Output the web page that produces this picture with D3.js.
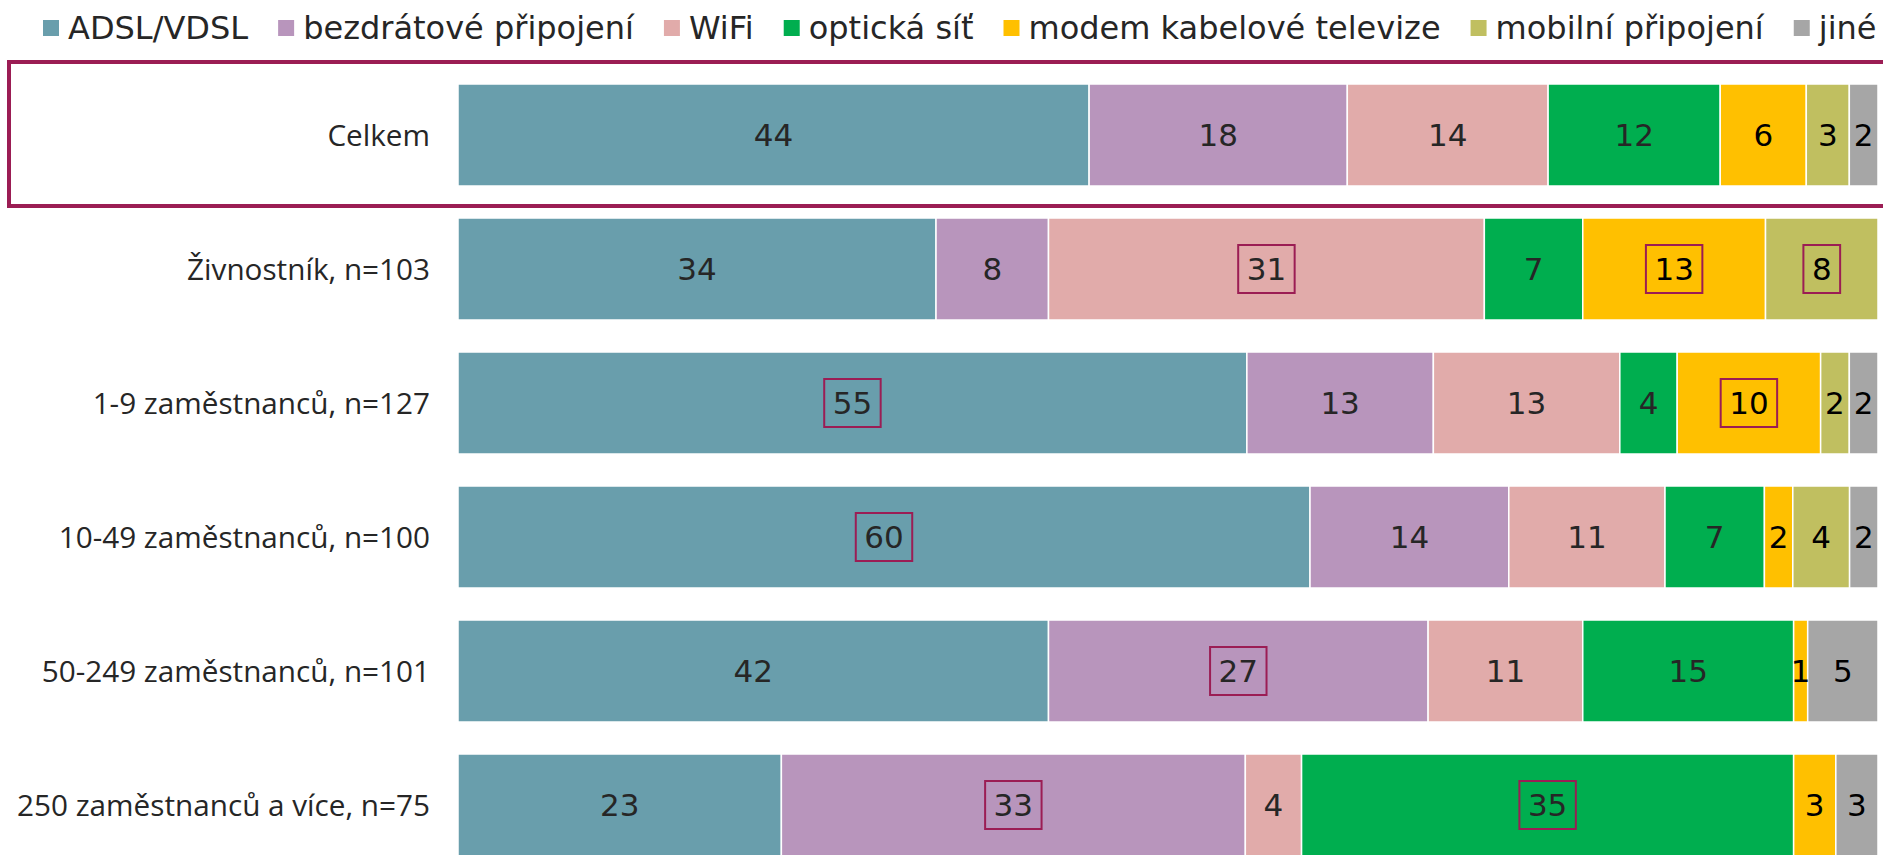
<!DOCTYPE html>
<html>
<head>
<meta charset="utf-8">
<script src="https://cdn.jsdelivr.net/npm/d3@7"></script>
<style>
  html, body { margin: 0; padding: 0; background: #fff; overflow: hidden; }
  svg { display: block; }
</style>
</head>
<body>
<svg id="chart" width="1883" height="855"></svg>
<script>
// ---- data ----
const categories = [
  "Celkem",
  "Živnostník, n=103",
  "1-9 zaměstnanců, n=127",
  "10-49 zaměstnanců, n=100",
  "50-249 zaměstnanců, n=101",
  "250 zaměstnanců a více, n=75"
];
const seriesNames = ["ADSL/VDSL", "bezdrátové připojení", "WiFi", "optická síť", "modem kabelové televize", "mobilní připojení", "jiné"];
const adsl     = [44, 34, 55, 60, 42, 23];
const bezdrat  = [18,  8, 13, 14, 27, 33];
const wifi     = [14, 31, 13, 11, 11,  4];
const opticka  = [12,  7,  4,  7, 15, 35];
const modem    = [ 6, 13, 10,  2,  1,  3];
const mobilni  = [ 3,  8,  2,  4,  0,  0];
const jine     = [ 2,  0,  2,  2,  5,  3];
const seriesValues = [adsl, bezdrat, wifi, opticka, modem, mobilni, jine];
// significance-boxed labels: [category index, series index]
const boxed = [[1,2],[1,4],[1,5],[2,0],[2,4],[3,0],[4,1],[5,1],[5,3]];
const colors = ["#699EAC", "#B895BC", "#E1ABAA", "#00AE4F", "#FFC000", "#C0BF60", "#A6A6A6"];
const textColors = ["#262626", "#262626", "#262626", "#262626", "#000000", "#000000", "#000000"];
const accent = "#9B1D54";

// ---- layout ----
const W = 1883, H = 855;
const plot = { left: 458, right: 1878, top: 84 };
const rowStep = 134, barH = 102;

const svg = d3.select("#chart");

const x = d3.scaleLinear().domain([0, 1]).range([plot.left, plot.right]);
const y = d3.scaleBand()
  .domain(categories)
  .range([plot.top, plot.top + rowStep * (categories.length - 1) + barH])
  .paddingInner((rowStep - barH) / rowStep)
  .paddingOuter(0);

// build normalized stack
const rows = categories.map((c, i) => {
  const obj = { cat: c };
  seriesNames.forEach((s, j) => obj[s] = seriesValues[j][i]);
  return obj;
});
const stack = d3.stack().keys(seriesNames).offset(d3.stackOffsetExpand);
const stacked = stack(rows);

// highlight frame around "Celkem"
svg.append("rect")
  .attr("x", 9).attr("y", 62)
  .attr("width", W + 20).attr("height", 144)
  .attr("fill", "none").attr("stroke", accent).attr("stroke-width", 4);

// bars
const layers = svg.append("g").selectAll("g")
  .data(stacked).join("g")
  .attr("fill", (d, j) => colors[j]);

layers.selectAll("rect")
  .data(d => d.map(v => ({ v, key: d.key })))
  .join("rect")
  .filter(d => d.v[1] - d.v[0] > 0)
  .attr("x", d => x(d.v[0]))
  .attr("y", d => y(d.v.data.cat))
  .attr("width", d => x(d.v[1]) - x(d.v[0]))
  .attr("height", y.bandwidth())
  .attr("stroke", "#fff").attr("stroke-width", 1.5);

// value labels
const labelG = svg.append("g")
  .style("font-family", "'DejaVu Sans', Verdana, sans-serif")
  .style("font-size", "31px");

stacked.forEach((layer, j) => {
  layer.forEach((v, i) => {
    const val = seriesValues[j][i];
    if (!val) return;
    const cx = (x(v[0]) + x(v[1])) / 2;
    const cy = y(categories[i]) + y.bandwidth() / 2;
    const t = labelG.append("text")
      .attr("x", cx).attr("y", cy)
      .attr("text-anchor", "middle")
      .attr("dy", "0.36em")
      .attr("fill", textColors[j])
      .text(val);
    if (boxed.some(b => b[0] === i && b[1] === j)) {
      const w = t.node().getComputedTextLength();
      labelG.append("rect")
        .attr("x", cx - w / 2 - 8.5).attr("y", cy - 24)
        .attr("width", w + 17).attr("height", 48)
        .attr("fill", "none").attr("stroke", accent).attr("stroke-width", 2);
    }
  });
});

// category labels
svg.append("g").selectAll("text")
  .data(categories).join("text")
  .attr("x", 430)
  .attr("y", d => y(d) + y.bandwidth() / 2)
  .attr("dy", "0.36em")
  .attr("text-anchor", "end")
  .style("font-family", "'Open Sans', 'Noto Sans', sans-serif")
  .style("font-size", "29.7px")
  .attr("fill", "#262626")
  .text(d => d);

// legend
const legend = svg.append("g")
  .style("font-family", "'DejaVu Sans', Verdana, sans-serif")
  .style("font-size", "32px");
let lx = 43;
seriesNames.forEach((s, j) => {
  legend.append("rect")
    .attr("x", lx).attr("y", 20).attr("width", 16).attr("height", 16)
    .attr("fill", colors[j]);
  const t = legend.append("text")
    .attr("x", lx + 25).attr("y", 39)
    .attr("fill", "#262626")
    .text(s);
  lx += 25 + t.node().getComputedTextLength() + 30;
});
</script>
</body>
</html>
